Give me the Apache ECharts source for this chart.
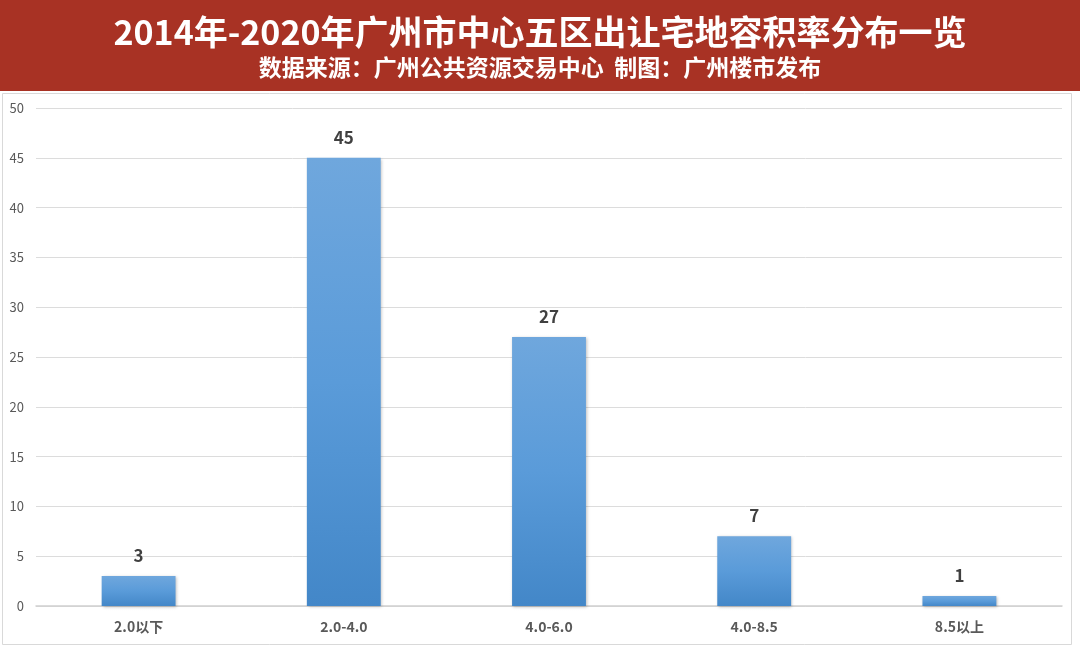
<!DOCTYPE html>
<html><head><meta charset="utf-8">
<script src="https://cdn.jsdelivr.net/npm/echarts@6/dist/echarts.min.js"></script>
<style>html,body{margin:0;padding:0;background:#fff}#c{width:1080px;height:648px}</style>
</head><body><div id="c"></div>
<script>
const categories = ['2.0以下', '2.0-4.0', '4.0-6.0', '4.0-8.5', '8.5以上'];
const values = [3, 45, 27, 7, 1];
const titleText = '2014年-2020年广州市中心五区出让宅地容积率分布一览';
const subtitleText = '数据来源：广州公共资源交易中心  制图：广州楼市发布';

const chart = echarts.init(document.getElementById('c'));
const font = '"Microsoft YaHei","Noto Sans CJK SC","Noto Sans",sans-serif';
chart.setOption({
  backgroundColor: '#fff',
  animation: false,
  graphic: [
    { type: 'rect', shape: { x: 0, y: 0, width: 1080, height: 91 }, style: { fill: '#A83224' }, z: -1 },
    { type: 'rect', shape: { x: 2.5, y: 93.5, width: 1069, height: 551 }, style: { fill: 'none', stroke: '#D9D9D9', lineWidth: 1 }, z: -1 }
  ],
  title: [
    { text: titleText, left: 'center', top: 10, textStyle: { color: '#fff', fontSize: 34, fontWeight: 'bold', fontFamily: font } },
    { text: subtitleText, left: 'center', top: 51, textStyle: { color: '#fff', fontSize: 23, fontWeight: 'bold', fontFamily: font } }
  ],
  grid: { left: 36, right: 18, top: 108, bottom: 42, containLabel: false },
  xAxis: {
    type: 'category', data: categories,
    axisLine: { lineStyle: { color: '#D0D0D0', width: 1.5 } },
    axisTick: { show: false },
    axisLabel: { color: '#595959', fontSize: 14, fontWeight: 'bold', margin: 14, fontFamily: font }
  },
  yAxis: {
    type: 'value', min: 0, max: 50, interval: 5,
    axisLine: { show: false }, axisTick: { show: false },
    splitLine: { lineStyle: { color: '#DCDCDC' } },
    axisLabel: { color: '#595959', fontSize: 13, margin: 12, fontFamily: font }
  },
  series: [{
    type: 'bar', data: values, barWidth: '36%',
    itemStyle: {
      color: new echarts.graphic.LinearGradient(0, 0, 0, 1, [
        { offset: 0, color: '#6FA7DD' }, { offset: 0.5, color: '#5A9BD9' }, { offset: 1, color: '#4387C8' }
      ]),
      shadowColor: 'rgba(0,0,0,0.25)', shadowBlur: 3, shadowOffsetX: 1, shadowOffsetY: 1
    },
    label: { show: true, position: 'top', distance: 12, color: '#404040', fontSize: 17, fontWeight: 'bold', fontFamily: font }
  }]
});
</script></body></html>
